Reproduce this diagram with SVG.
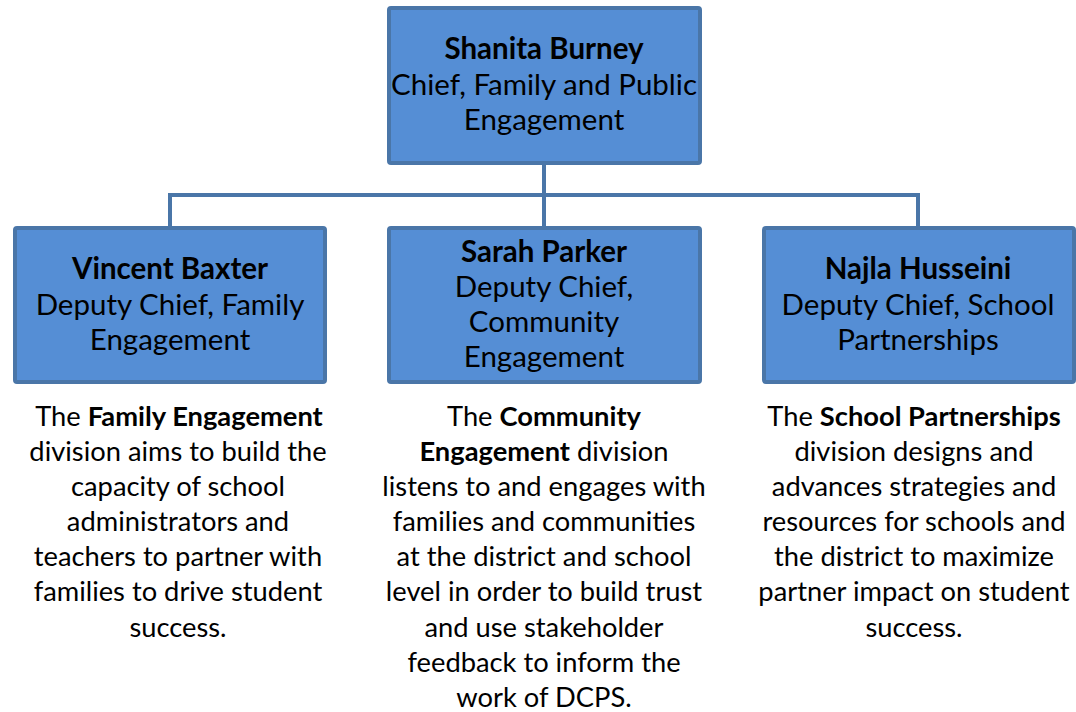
<svg xmlns="http://www.w3.org/2000/svg" width="1076" height="712" viewBox="0 0 1076 712">
<style>
.box{fill:#558ed5;stroke:#4a76a8;stroke-width:4}
.con{fill:none;stroke:#4a76a8;stroke-width:4}
text{font-family:Lato,"Open Sans",sans-serif;font-size:27.3px;fill:#000;text-anchor:middle}
.h{font-size:29.5px}
.b{font-weight:bold}
</style>
<rect width="1076" height="712" fill="#fff"/>
<g id="connectors">
<path class="con" d="M544,165 V227 M170,227 V195 H918 V227"/>
</g>
<g id="chief">
<rect class="box" x="389" y="8" width="311" height="155" rx="2"/>
<text x="544" y="59" class="h b">Shanita Burney</text>
<text x="544" y="95" class="h">Chief, Family and Public</text>
<text x="544" y="130" class="h">Engagement</text>
</g>
<g id="baxter">
<rect class="box" x="15" y="228" width="310" height="154" rx="2"/>
<text x="170" y="279" class="h b">Vincent Baxter</text>
<text x="170" y="315" class="h">Deputy Chief, Family</text>
<text x="170" y="350" class="h">Engagement</text>
</g>
<g id="parker">
<rect class="box" x="389" y="228" width="311" height="154" rx="2"/>
<text x="544" y="262" class="h b">Sarah Parker</text>
<text x="544" y="297" class="h">Deputy Chief,</text>
<text x="544" y="332" class="h">Community</text>
<text x="544" y="367" class="h">Engagement</text>
</g>
<g id="husseini">
<rect class="box" x="764" y="228" width="310" height="154" rx="2"/>
<text x="918" y="279" class="h b">Najla Husseini</text>
<text x="918" y="315" class="h">Deputy Chief, School</text>
<text x="918" y="350" class="h">Partnerships</text>
</g>
<g id="desc-family">
<text x="179" y="426">The <tspan class="b">Family Engagement</tspan></text>
<text x="178" y="461">division aims to build the</text>
<text x="178" y="496">capacity of school</text>
<text x="178" y="531">administrators and</text>
<text x="178" y="566">teachers to partner with</text>
<text x="178" y="601">families to drive student</text>
<text x="178" y="637">success.</text>
</g>
<g id="desc-community">
<text x="544" y="426">The <tspan class="b">Community</tspan></text>
<text x="544" y="461"><tspan class="b">Engagement</tspan> division</text>
<text x="544" y="496">listens to and engages with</text>
<text x="544" y="531">families and communities</text>
<text x="544" y="566">at the district and school</text>
<text x="544" y="601">level in order to build trust</text>
<text x="544" y="637">and use stakeholder</text>
<text x="544" y="672">feedback to inform the</text>
<text x="544" y="707">work of DCPS.</text>
</g>
<g id="desc-school">
<text x="914" y="426">The <tspan class="b">School Partnerships</tspan></text>
<text x="914" y="461">division designs and</text>
<text x="914" y="496">advances strategies and</text>
<text x="914" y="531">resources for schools and</text>
<text x="914" y="566">the district to maximize</text>
<text x="914" y="601">partner impact on student</text>
<text x="914" y="637">success.</text>
</g>
</svg>
